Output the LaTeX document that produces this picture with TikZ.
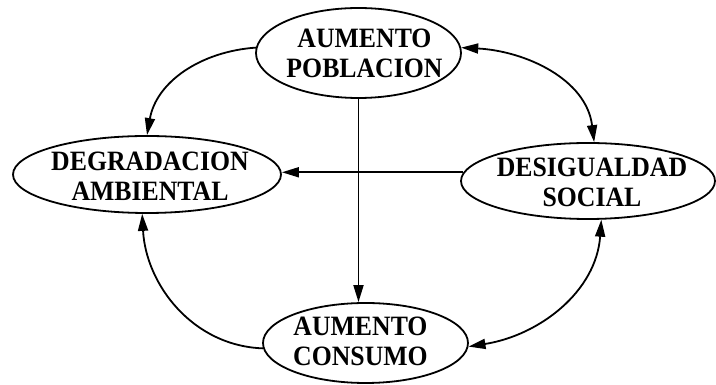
\documentclass[tikz,border=0pt]{standalone}
\usepackage{fontspec}
\setmainfont{Liberation Serif}
\newfontfamily\diafont{Liberation Serif Bold}[FakeStretch=0.92]
\usetikzlibrary{shapes.geometric,arrows.meta}
\begin{document}
\begin{tikzpicture}[x=1pt,y=1pt,
  oval/.style={ellipse, draw, line width=1.8pt, inner sep=0pt},
  lbl/.style={font=\diafont\fontsize{28}{30}\selectfont, align=center, inner sep=0pt},
  conn/.style={line width=1.8pt},
  tip/.tip={Triangle[length=17pt,width=10pt]}]
\useasboundingbox (0,0) rectangle (716,385);
\node[oval, minimum width=205pt, minimum height=90pt,
  label={[lbl,xshift=6pt]center:AUMENTO\\POBLACION}] (AP) at (358.5,332) {};
\node[oval, minimum width=268pt, minimum height=77pt,
  label={[lbl,xshift=3pt,yshift=-1.5pt]center:DEGRADACION\\AMBIENTAL}] (DA) at (147,210.5) {};
\node[oval, minimum width=254pt, minimum height=76pt,
  label={[lbl,xshift=4pt,yshift=-1.5pt]center:DESIGUALDAD\\SOCIAL}] (DS) at (588,204) {};
\node[oval, minimum width=205pt, minimum height=80pt,
  label={[lbl,xshift=-5pt,yshift=1.5pt]center:AUMENTO\\CONSUMO}] (AC) at (365.5,42) {};
\draw[conn,-{tip}] (AP.177) to[out=184,in=80] (DA.north);
\draw[conn,{tip}-{tip}] (AP.3) to[out=-3,in=97] (DS.81);
\draw[conn,{tip}-{tip}] (DS.-71) to[out=-94,in=9] (AC.-2);
\draw[conn,-{tip}] (AC.183) to[out=178,in=-87] (DA.263);
\draw[conn,-{tip}] (DS.176) -- (DA.east |- DS.176);
\draw[conn,-{tip}] (AP.south) -- (AP.south |- AC.north);
\end{tikzpicture}
\end{document}
